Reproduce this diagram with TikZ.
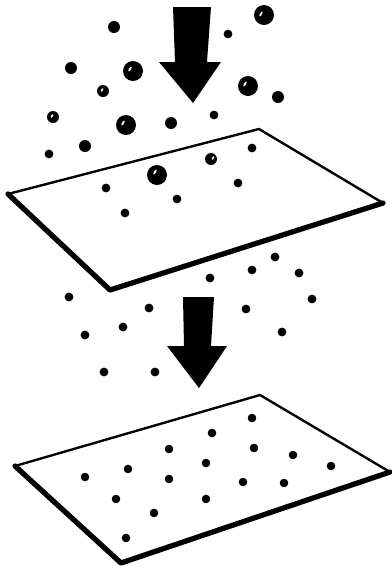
\documentclass[tikz,border=0pt]{standalone}
\begin{document}
\begin{tikzpicture}[x=0.02cm,y=-0.02cm,
  sheet/.style={draw=black,fill=white,line width=1.35pt,line join=round},
  rim/.style={draw=black,line width=3pt,line join=round,line cap=round},
  dot/.style={fill=black},
  shine/.style={fill=white}]
\useasboundingbox (0,0) rectangle (392,569);
% particles above the first sheet
\fill[dot] (264,15) circle (10);
\fill[shine,rotate around={60:(261,14)}] (261,14) ellipse (2.8 and 1);
\fill[dot] (114,27) circle (6);
\fill[dot] (228,34) circle (4.4);
\fill[dot] (71,68) circle (6);
\fill[dot] (133,71) circle (10);
\fill[shine,rotate around={60:(130,69)}] (130,69) ellipse (2.8 and 1);
\fill[dot] (103,91) circle (6);
\fill[shine,rotate around={60:(102,90)}] (102,90) ellipse (2 and 0.9);
\fill[dot] (248,86) circle (10);
\fill[shine,rotate around={60:(245,84)}] (245,84) ellipse (2.8 and 1);
\fill[dot] (278,97) circle (6);
\fill[dot] (53,117) circle (6);
\fill[shine,rotate around={60:(52,116)}] (52,116) ellipse (2 and 0.9);
\fill[dot] (126,125) circle (10);
\fill[shine,rotate around={60:(123,123)}] (123,123) ellipse (2.8 and 1);
\fill[dot] (171,123) circle (6);
\fill[dot] (214,115) circle (4.4);
\fill[dot] (85,146) circle (6);
\fill[dot] (49,154) circle (4.4);
% first arrow
\fill[black] (173,7) -- (211,7) -- (207,62) -- (221,62) -- (193,103) -- (159,62) -- (175,62) -- cycle;
% first sheet
\draw[sheet] (8,194) -- (259,129) -- (383,203) -- (110,290) -- cycle;
\draw[rim] (8,194) -- (110,290) -- (383,203);
\fill[dot] (211,159) circle (6);
\fill[shine,rotate around={60:(213,158)}] (213,158) ellipse (2 and 0.9);
\fill[dot] (252,148) circle (4.4);
\fill[dot] (157,175) circle (10);
\fill[shine,rotate around={60:(155,172)}] (155,172) ellipse (2.8 and 1);
\fill[dot] (238,183) circle (4.4);
\fill[dot] (106,188) circle (4.4);
\fill[dot] (177,199) circle (4.4);
\fill[dot] (125,213) circle (4.4);
% particles between the sheets
\fill[dot] (275,257) circle (4.4);
\fill[dot] (252,270) circle (4.4);
\fill[dot] (210,278) circle (4.4);
\fill[dot] (299,273) circle (4.4);
\fill[dot] (69,297) circle (4.4);
\fill[dot] (312,299) circle (4.4);
\fill[dot] (149,308) circle (4.4);
\fill[dot] (246,309) circle (4.4);
\fill[dot] (123,327) circle (4.4);
\fill[dot] (282,332) circle (4.4);
\fill[dot] (85,335) circle (4.4);
\fill[dot] (104,372) circle (4.4);
\fill[dot] (155,372) circle (4.4);
% second arrow
\fill[black] (183,297) -- (214,297) -- (211,346) -- (227,346) -- (199,388) -- (167,346) -- (184,346) -- cycle;
% second sheet
\draw[sheet] (15,466) -- (260,395) -- (390,472) -- (121,563) -- cycle;
\draw[rim] (15,466) -- (121,563) -- (390,472);
\fill[dot] (252,418) circle (4.3);
\fill[dot] (212,433) circle (4.3);
\fill[dot] (169,449) circle (4.3);
\fill[dot] (254,448) circle (4.3);
\fill[dot] (293,455) circle (4.3);
\fill[dot] (331,466) circle (4.3);
\fill[dot] (206,463) circle (4.3);
\fill[dot] (128,469) circle (4.3);
\fill[dot] (85,477) circle (4.3);
\fill[dot] (169,479) circle (4.3);
\fill[dot] (243,482) circle (4.3);
\fill[dot] (284,483) circle (4.3);
\fill[dot] (116,499) circle (4.3);
\fill[dot] (206,499) circle (4.3);
\fill[dot] (154,513) circle (4.3);
\fill[dot] (126,538) circle (4.3);
\end{tikzpicture}
\end{document}
